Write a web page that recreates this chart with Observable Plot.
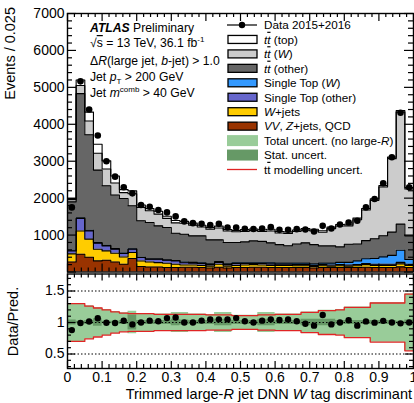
<!DOCTYPE html>
<html>
<head>
<meta charset="utf-8">
<script src="https://cdn.jsdelivr.net/npm/d3@7"></script>
<script src="https://cdn.jsdelivr.net/npm/@observablehq/plot@0.6"></script>
<style>
  body { margin: 0; background: #fff; }
  #chart { position: relative; width: 414px; height: 403px; }
  #chart svg { display: block; }
  text { white-space: pre; }
</style>
</head>
<body>
<div id="chart"></div>
<script>
const FONT = '"Liberation Sans", Arial, Helvetica, sans-serif';
const nBins = 40;
const binWidth = 0.025;

// Observed events per bin (DNN W tag discriminant, 40 bins of 0.025)
const dataCounts = [1750,5163,4402,3696,3000,2582,2293,2130,1813,1766,
                    1677,1614,1505,1370,1323,1304,1269,1304,1207,1207,
                    1170,1165,1179,1215,1141,1141,1160,1152,1098,1250,
                    1179,1288,1342,1386,1750,1976,2402,3109,4313,2293];

// Predicted yields per process, stacked bottom to top
const vvZjetsQcd = [270,480,400,300,318,272,209,364,147,136,
                    136,120,120,130,130,120,110,130,110,120,
                    120,130,130,120,120,120,120,120,110,120,
                    120,120,120,120,130,120,120,120,140,120];
const wJets      = [220,630,490,317,253,236,199,163,152,136,
                    119,116,89,60,60,60,50,80,50,60,
                    70,70,60,60,60,60,50,50,40,50,
                    40,50,40,50,70,60,60,60,80,60];
const singleTopOther = [80,340,225,163,136,109,92,90,92,73,
                    90,82,91,60,50,50,40,50,40,50,
                    40,30,40,40,30,30,30,30,30,30,
                    30,30,30,30,30,30,30,30,40,30];
const singleTopW = [20,15,15,15,15,15,12,12,10,10,
                    10,10,10,20,20,20,20,20,20,20,
                    20,20,20,30,30,30,40,40,40,40,
                    50,60,70,100,130,160,200,240,330,130];
const ttbarOther = [1310,3365,2585,1965,1615,1452,1478,1164,985,987,
                    895,879,740,754,719,729,650,590,579,549,
                    565,592,580,540,500,470,520,550,520,467,
                    467,420,493,460,490,530,570,630,706,639];
const ttbarW     = [60,220,372,457,454,326,160,327,364,316,
                    318,244,280,296,291,241,290,320,311,291,
                    285,278,270,320,315,335,335,345,375,368,
                    468,565,497,655,830,1040,1320,1990,3034,1271];
const ttbarTop   = [30,150,243,243,219,190,80,76,63,57,
                    76,57,64,50,53,46,49,52,40,38,
                    47,45,45,47,42,42,42,41,41,41,
                    40,43,45,44,40,40,40,40,40,40];

// Relative uncertainties on the prediction (half widths)
const totalUnc = [.30,.30,.265,.235,.205,.175,.155,.18,.145,.145,
                  .135,.135,.16,.16,.135,.135,.125,.16,.16,.115,
                  .115,.115,.16,.16,.135,.135,.135,.165,.165,.195,
                  .195,.205,.245,.245,.245,.315,.315,.315,.315,.455];
const statUnc  = [.04,.02,.03,.06,.02,.02,.03,.12,.03,.03,
                  .03,.03,.05,.04,.03,.03,.03,.05,.05,.03,
                  .03,.03,.05,.05,.03,.03,.03,.05,.05,.05,
                  .05,.03,.03,.03,.03,.03,.03,.03,.02,.04];
const ttModUnc = [.30,.30,.26,.23,.20,.17,.15,.14,.14,.14,
                  .13,.13,.13,.13,.13,.13,.12,.12,.12,.11,
                  .11,.11,.12,.12,.13,.13,.13,.16,.16,.19,
                  .19,.20,.24,.24,.24,.31,.31,.31,.31,.45];

const layerNames = ["VV, Z+jets, QCD","W+jets","Single Top (other)","Single Top (W)",
                    "ttbar (other)","ttbar (W)","ttbar (top)"];
const layerValues = [vvZjetsQcd, wJets, singleTopOther, singleTopW, ttbarOther, ttbarW, ttbarTop];
const layerFills = ["#993300","#ffcc00","#6666cc","#3399ff","#666666","#cccccc","#ffffff"];

const yTickLabels = [1000,2000,3000,4000,5000,6000,7000];
const ratioTickLabels = [0.5,1,1.5];
const xTickLabels = [0,0.1,0.2,0.3,0.4,0.5,0.6,0.7,0.8,0.9,1];

// ---- derived tables ----
const edges = d3.range(nBins + 1).map(i => i * binWidth);
const centers = d3.range(nBins).map(i => (i + 0.5) * binWidth);
const stackRows = layerNames.flatMap((name, k) =>
  edges.map((x, i) => ({x, y: layerValues[k][Math.min(i, nBins - 1)], series: name})));
const totals = d3.range(nBins).map(i => d3.sum(layerValues, v => v[i]));
const dataRows = centers.map((x, i) => ({x, y: dataCounts[i]}));
const ratioRows = centers.map((x, i) => ({x, r: dataCounts[i] / totals[i]}));
const bandRows = edges.map((x, i) => {
  const k = Math.min(i, nBins - 1);
  return {x, tot: totalUnc[k], stat: statUnc[k], mod: ttModUnc[k]};
});

const W = 414, mL = 67, mR = 1;
const innerW = W - mL - mR;
const xMajor = d3.range(0, 11).map(k => k / 10);
const xMinor = d3.range(0, 51).map(k => k / 50).filter((d, k) => k % 5 !== 0);

// ---- main panel ----
const mainH = 273, mainTop = 13, mainBottom = 1.5;
const innerH = mainH - mainTop - mainBottom;
const yMajor = d3.range(0, 7001, 1000);
const yMinor = d3.range(0, 7001, 200).filter(d => d % 1000 !== 0);

const main = Plot.plot({
  width: W, height: mainH,
  marginLeft: mL, marginRight: mR, marginTop: mainTop, marginBottom: mainBottom,
  style: {fontFamily: FONT, background: "white"},
  x: {domain: [0, 1], axis: null},
  y: {domain: [0, 7000], axis: null},
  color: {domain: layerNames, range: layerFills},
  marks: [
    Plot.areaY(stackRows, {x: "x", y: "y", z: "series", fill: "series", order: layerNames, curve: "step-after"}),
    Plot.lineY(stackRows, Plot.stackY2({x: "x", y: "y", z: "series", order: layerNames, curve: "step-after", stroke: "black", strokeWidth: 1.1})),
    Plot.tickY(yMajor, {y: d => d, insetRight: innerW - 9, stroke: "black", strokeWidth: 1.2}),
    Plot.tickY(yMinor, {y: d => d, insetRight: innerW - 5, stroke: "black", strokeWidth: 1.2}),
    Plot.tickY(yMajor, {y: d => d, insetLeft: innerW - 9, stroke: "black", strokeWidth: 1.2}),
    Plot.tickY(yMinor, {y: d => d, insetLeft: innerW - 5, stroke: "black", strokeWidth: 1.2}),
    Plot.tickX(xMajor, {x: d => d, insetTop: innerH - 8, stroke: "black", strokeWidth: 1.2}),
    Plot.tickX(xMinor, {x: d => d, insetTop: innerH - 4, stroke: "black", strokeWidth: 1.2}),
    Plot.tickX(xMajor, {x: d => d, insetBottom: innerH - 8, stroke: "black", strokeWidth: 1.2}),
    Plot.tickX(xMinor, {x: d => d, insetBottom: innerH - 4, stroke: "black", strokeWidth: 1.2}),
    Plot.dot(dataRows, {x: "x", y: "y", r: 3.3, fill: "black"}),
    Plot.axisY(yTickLabels, {anchor: "left", tickSize: 0, tickPadding: 3, fontSize: 14, label: null, tickFormat: d => String(d)}),
    Plot.frame({stroke: "black", strokeWidth: 1.4})
  ]
});

// ---- ratio panel ----
const ratioH = 130, ratioTop = 0.5, ratioBottom = 35;
const ratioInnerH = ratioH - ratioTop - ratioBottom;
const rMajor = [0.5, 1, 1.5];
const rMinor = d3.range(3, 18).filter(k => k % 5 !== 0).map(k => k / 10);

const ratio = Plot.plot({
  width: W, height: ratioH,
  marginLeft: mL, marginRight: mR, marginTop: ratioTop, marginBottom: ratioBottom,
  style: {fontFamily: FONT, background: "white"},
  x: {domain: [0, 1], axis: null},
  y: {domain: [0.27, 1.77], axis: null},
  marks: [
    Plot.areaY(bandRows, {x: "x", y1: d => 1 - d.tot, y2: d => 1 + d.tot, curve: "step-after", fill: "#99cc99"}),
    Plot.areaY(bandRows, {x: "x", y1: d => 1 - d.stat, y2: d => 1 + d.stat, curve: "step-after", fill: "#669966"}),
    Plot.lineY(bandRows, {x: "x", y: d => 1 + d.mod, curve: "step-after", stroke: "#e02424", strokeWidth: 1.3}),
    Plot.lineY(bandRows, {x: "x", y: d => 1 - d.mod, curve: "step-after", stroke: "#e02424", strokeWidth: 1.3}),
    Plot.ruleY(rMajor, {y: d => d, stroke: "black", strokeWidth: 1, strokeDasharray: "1.5,2"}),
    Plot.tickY(rMajor, {y: d => d, insetRight: innerW - 8, stroke: "black", strokeWidth: 1.2}),
    Plot.tickY(rMinor, {y: d => d, insetRight: innerW - 4, stroke: "black", strokeWidth: 1.2}),
    Plot.tickY(rMajor, {y: d => d, insetLeft: innerW - 8, stroke: "black", strokeWidth: 1.2}),
    Plot.tickY(rMinor, {y: d => d, insetLeft: innerW - 4, stroke: "black", strokeWidth: 1.2}),
    Plot.tickX(xMajor, {x: d => d, insetTop: ratioInnerH - 7, stroke: "black", strokeWidth: 1.2}),
    Plot.tickX(xMinor, {x: d => d, insetTop: ratioInnerH - 4, stroke: "black", strokeWidth: 1.2}),
    Plot.tickX(xMajor, {x: d => d, insetBottom: ratioInnerH - 7, stroke: "black", strokeWidth: 1.2}),
    Plot.tickX(xMinor, {x: d => d, insetBottom: ratioInnerH - 4, stroke: "black", strokeWidth: 1.2}),
    Plot.dot(ratioRows, {x: "x", y: "r", r: 3.2, fill: "black"}),
    Plot.axisY(ratioTickLabels, {anchor: "left", tickSize: 0, tickPadding: 3, fontSize: 14, label: null, tickFormat: d => String(d)}),
    Plot.axisX(xTickLabels, {anchor: "bottom", tickSize: 0, tickPadding: 4, fontSize: 14, label: null,
      tickFormat: d => (d === 0 || d === 1) ? String(d) : d.toFixed(1)}),
    Plot.frame({stroke: "black", strokeWidth: 1.4})
  ]
});

const chart = document.getElementById("chart");
chart.append(main, ratio);

// ---- annotations ----
function richText(parent, x, y, parts, size, attrs = {}) {
  const t = parent.append("text").attr("x", x).attr("y", y)
    .attr("font-size", size).attr("font-family", FONT).attr("fill", "black")
    .attr("text-anchor", "start");
  Object.entries(attrs).forEach(([k, v]) => t.attr(k, v));
  parts.forEach(p => {
    const s = t.append("tspan").text(p.t);
    if (p.i) s.attr("font-style", "italic");
    if (p.b) s.attr("font-weight", "bold");
    if (p.o) s.attr("text-decoration", "overline");
    if (p.dy) s.attr("dy", p.dy);
    if (p.fs) s.attr("font-size", p.fs);
  });
  return t;
}

const ms = d3.select(main);
const ann = ms.append("g");
richText(ann, 90, 31.5, [{t: "ATLAS", b: true, i: true}, {t: " Preliminary"}], 12.2);
richText(ann, 90, 47, [{t: "√"}, {t: "s", o: true}, {t: " = 13 TeV, 36.1 fb"}, {t: "-1", dy: -5, fs: 8}], 12.2);
richText(ann, 90, 64.5, [{t: "Δ"}, {t: "R", i: true}, {t: "(large jet, "}, {t: "b", i: true}, {t: "-jet) > 1.0"}], 12.2);
richText(ann, 90, 80.5, [{t: "Jet "}, {t: "p", i: true}, {t: "T", fs: 8, dy: 3}, {t: " > 200 GeV", dy: -3}], 12.2);
richText(ann, 90, 97, [{t: "Jet "}, {t: "m", i: true}, {t: "comb", fs: 8, dy: -5}, {t: " > 40 GeV", dy: 5}], 12.2);

const tt = (italic) => [{t: "t", i: italic}, {t: "t", i: italic, o: true}];
const legendEntries = [
  {kind: "data", parts: [{t: "Data 2015+2016"}]},
  {kind: "box", fill: layerFills[6], parts: [...tt(true), {t: " (top)"}]},
  {kind: "box", fill: layerFills[5], parts: [...tt(true), {t: " ("}, {t: "W", i: true}, {t: ")"}]},
  {kind: "box", fill: layerFills[4], parts: [...tt(true), {t: " (other)"}]},
  {kind: "box", fill: layerFills[3], parts: [{t: "Single Top ("}, {t: "W", i: true}, {t: ")"}]},
  {kind: "box", fill: layerFills[2], parts: [{t: "Single Top (other)"}]},
  {kind: "box", fill: layerFills[1], parts: [{t: "W", i: true}, {t: "+jets"}]},
  {kind: "box", fill: layerFills[0], parts: [{t: "VV", i: true}, {t: ", "}, {t: "Z", i: true}, {t: "+jets, QCD"}]},
  {kind: "band", fill: "#99cc99", parts: [{t: "Total uncert. (no large-"}, {t: "R", i: true}, {t: ")"}]},
  {kind: "band", fill: "#669966", parts: [{t: "Stat. uncert."}]},
  {kind: "line", stroke: "#e02424", parts: [...tt(false), {t: " modelling uncert."}]}
];
const leg = ms.append("g");
legendEntries.forEach((e, k) => {
  const yc = 25 + 14.45 * k;
  if (e.kind === "data") {
    leg.append("line").attr("x1", 227).attr("x2", 257).attr("y1", yc).attr("y2", yc).attr("stroke", "black").attr("stroke-width", 1.2);
    leg.append("circle").attr("cx", 242).attr("cy", yc).attr("r", 3.2).attr("fill", "black");
  } else if (e.kind === "box") {
    leg.append("rect").attr("x", 228).attr("y", yc - 4).attr("width", 29).attr("height", 8)
      .attr("fill", e.fill).attr("stroke", "black").attr("stroke-width", 1.3);
  } else if (e.kind === "band") {
    leg.append("rect").attr("x", 227).attr("y", yc - 5.5).attr("width", 31).attr("height", 11).attr("fill", e.fill);
  } else {
    leg.append("line").attr("x1", 227).attr("x2", 257).attr("y1", yc).attr("y2", yc).attr("stroke", e.stroke).attr("stroke-width", 1.3);
  }
  richText(leg, 264, yc + 4.3, e.parts, 11.7);
});

// axis titles
richText(ms, 0, 0, [{t: "Events / 0.025"}], 14.5, {"text-anchor": "end", transform: "translate(15,7) rotate(-90)"});
const rs = d3.select(ratio);
richText(rs, 0, 0, [{t: "Data/Pred."}], 14.5, {"text-anchor": "middle", transform: "translate(18,48.5) rotate(-90)"});
richText(rs, 412, 126, [{t: "Trimmed large-"}, {t: "R", i: true}, {t: " jet DNN "}, {t: "W", i: true}, {t: " tag discriminant"}], 14.5, {"text-anchor": "end"});
</script>
</body>
</html>
